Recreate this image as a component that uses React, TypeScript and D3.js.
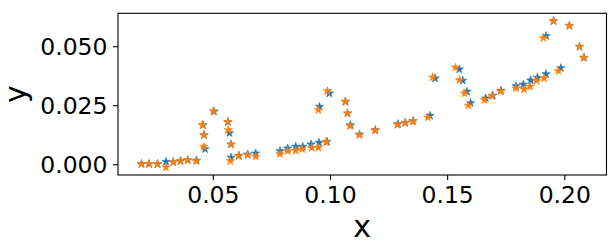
import React from "react";
import * as d3 from "d3";

const xBlue = [0.01934,0.02254,0.02617,0.02979,0.03291,0.03598,0.03906,0.04281,0.04559,0.04602,0.04644,0.05028,0.05626,0.0569,0.05754,0.05754,0.06096,0.06467,0.06808,0.07846,0.08174,0.08516,0.08815,0.09169,0.09511,0.09852,0.09532,0.0995,0.10642,0.10727,0.10855,0.11239,0.11914,0.12883,0.13194,0.13523,0.14249,0.14462,0.15499,0.15644,0.15828,0.15978,0.16626,0.16925,0.17279,0.1792,0.18231,0.18547,0.18829,0.192,0.19828,0.192,0.1952,0.20195,0.2063,0.20822];
const yBlue = [0.0003,0.0003,0.0003,0.00127,0.00114,0.00157,0.00199,0.00178,0.01682,0.01258,0.00665,0.02254,0.01809,0.01343,0.00864,0.00305,0.00381,0.00441,0.00483,0.0058,0.00695,0.00763,0.00763,0.00864,0.00932,0.00975,0.02458,0.03025,0.02669,0.02178,0.01682,0.01288,0.0147,0.01725,0.0178,0.01852,0.02076,0.03661,0.04042,0.03568,0.03093,0.02614,0.02814,0.02932,0.03136,0.03335,0.03398,0.03576,0.03695,0.03843,0.04097,0.05453,0.06089,0.0589,0.05,0.04534];
const xOrange = [0.01934,0.02254,0.02617,0.02979,0.03291,0.03598,0.03906,0.04260,0.0453,0.04602,0.04589,0.04999,0.05613,0.05639,0.05754,0.05724,0.06074,0.06467,0.06808,0.07846,0.08174,0.08516,0.08785,0.09199,0.09481,0.09809,0.09481,0.09865,0.1062,0.10727,0.10834,0.1123,0.11901,0.12853,0.13181,0.1351,0.1415,0.14364,0.15337,0.15508,0.15721,0.15883,0.16567,0.16895,0.17258,0.1792,0.18261,0.18517,0.18794,0.19115,0.19725,0.19085,0.19512,0.20195,0.2063,0.20801];
const yOrange = [0.0003,0.0003,0.0003,-0.0011,0.00114,0.00157,0.00199,0.00157,0.01682,0.01258,0.00763,0.02275,0.01822,0.0147,0.00864,0.00157,0.00369,0.0041,0.00347,0.00453,0.0058,0.00593,0.00665,0.0072,0.0072,0.00962,0.02318,0.03123,0.02669,0.02178,0.0164,0.01258,0.01449,0.01695,0.01767,0.0183,0.02008,0.03703,0.04119,0.03589,0.03025,0.02508,0.02742,0.02911,0.0311,0.03237,0.03195,0.03314,0.03559,0.03661,0.0397,0.05369,0.06089,0.0589,0.05,0.04534];

const xTicks = [0.05, 0.1, 0.15, 0.2];
const yTicks = [0, 0.025, 0.05];

const W = 616, H = 244;
const L = 118, R = 606.5, T = 13.3, B = 175;

export default function App() {
  const x = d3.scaleLinear().domain([0.0093, 0.2178]).range([L, R]);
  const y = d3.scaleLinear().domain([-0.00436, 0.06415]).range([B, T]);
  const star = d3.symbol().type(d3.symbolStar).size(22)() as string;
  const font = "'DejaVu Sans', sans-serif";
  return (
    <svg width={W} height={H} style={{ position: "absolute", left: 0, top: 0, background: "#fff" }} fontFamily={font}>
      {xBlue.map((v, i) => (
        <path key={"b" + i} d={star} transform={`translate(${x(v)},${y(yBlue[i])})`} fill="#1f77b4" stroke="#1f77b4" strokeWidth={0.6} />
      ))}
      {xOrange.map((v, i) => (
        <path key={"o" + i} d={star} transform={`translate(${x(v)},${y(yOrange[i])})`} fill="#ff7f0e" stroke="#ff7f0e" strokeWidth={0.6} />
      ))}
      <rect x={L} y={T} width={R - L} height={B - T} fill="none" stroke="#000" strokeWidth={1.1} />
      {xTicks.map((t) => (
        <g key={"xt" + t} transform={`translate(${x(t)},0)`}>
          <line y1={B} y2={B + 5} stroke="#000" strokeWidth={1.1} />
          <text y={202.7} textAnchor="middle" fontSize={23.5} fill="#000">{d3.format(".2f")(t)}</text>
        </g>
      ))}
      {yTicks.map((t) => (
        <g key={"yt" + t} transform={`translate(0,${y(t)})`}>
          <line x1={L - 5} x2={L} stroke="#000" strokeWidth={1.1} />
          <text x={107.5} dy="0.36em" textAnchor="end" fontSize={23.5} fill="#000">{d3.format(".3f")(t)}</text>
        </g>
      ))}
      <text x={(L + R) / 2} y={236.7} textAnchor="middle" fontSize={30} fill="#000">x</text>
      <text transform={`translate(25.5,${(T + B) / 2}) rotate(-90)`} textAnchor="middle" fontSize={30} fill="#000">y</text>
    </svg>
  );
}
